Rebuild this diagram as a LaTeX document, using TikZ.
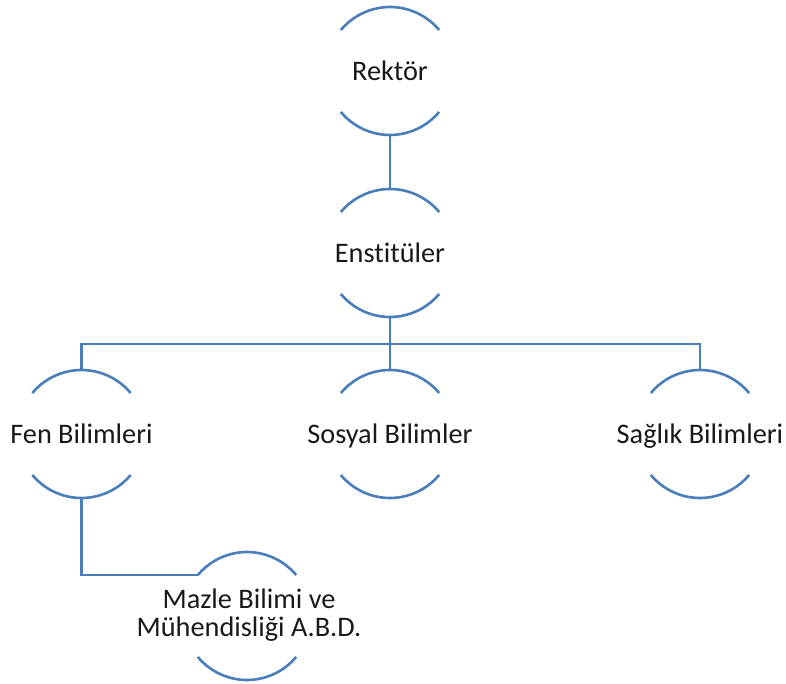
\documentclass[tikz,border=0pt]{standalone}
\usepackage{fontspec}
\setmainfont{Carlito}[RawFeature=-liga]
\usetikzlibrary{calc}
\definecolor{linkblue}{RGB}{74,126,187}
\begin{document}
\begin{tikzpicture}[x=1pt,y=1pt,
  unit/.style={rectangle,inner sep=0pt,minimum width=128pt,minimum height=128pt,
    font=\fontsize{28.3}{28.4}\selectfont,text=black!90},
  oneline/.style={unit,text height=18.2pt,text depth=0pt},
  arcline/.style={draw=linkblue,line width=2.6pt},
  link/.style={draw=linkblue,line width=2.6pt}]
\useasboundingbox (0,0) rectangle (786,683);
\node[oneline] (r) at (390,612) {Rektör};
\node[oneline] (e) at (390,430) {Enstitüler};
\node[oneline] (f) at (81.5,249) {Fen Bilimleri};
\node[oneline] (s) at (390,249) {Sosyal Bilimler};
\node[oneline] (h) at (700,249) {Sağlık Bilimleri};
\node[unit,align=center] (m) at (249,68) {Mazle Bilimi ve\\Mühendisliği A.B.D.};
\foreach \n in {r,e,f,s,h}{
  \draw[arcline] ($(\n.center)+(39.8:64pt)$) arc[start angle=39.8,end angle=140.2,radius=64pt];
  \draw[arcline] ($(\n.center)+(219.8:64pt)$) arc[start angle=219.8,end angle=320.2,radius=64pt];
}
\coordinate (mc) at (247,67);
\draw[arcline] ($(mc)+(39.8:64pt)$) arc[start angle=39.8,end angle=140.2,radius=64pt];
\draw[arcline] ($(mc)+(219.8:64pt)$) arc[start angle=219.8,end angle=320.2,radius=64pt];
\coordinate (bus) at (390,339);
\coordinate (mleft) at ($(mc)+(140.2:64pt)$);
\draw[link] (r.south) -- (e.north);
\draw[link] (e.south) -- (bus);
\draw[link] (bus) -- (s.north);
\draw[link] (f.north) |- (bus) -| (h.north);
\draw[link] (f.south) |- (mleft);
\end{tikzpicture}
\end{document}
